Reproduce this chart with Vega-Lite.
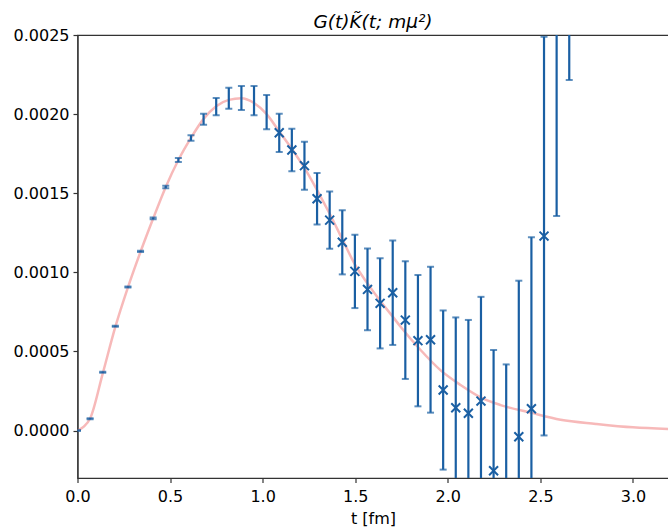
{
  "$schema": "https://vega.github.io/schema/vega-lite/v6.json",
  "width": 591,
  "height": 443,
  "autosize": "none",
  "padding": {"left": 77.5, "top": 35, "right": 0, "bottom": 50},
  "background": "white",
  "config": {
    "font": "DejaVu Sans",
    "view": {"stroke": "#333333", "strokeWidth": 1.2},
    "axis": {
      "grid": false,
      "domainColor": "#333333",
      "domainWidth": 1.2,
      "tickColor": "#333333",
      "tickWidth": 1.2,
      "tickSize": 4.5,
      "labelFont": "DejaVu Sans",
      "labelFontSize": 16,
      "labelColor": "#000000",
      "labelFlush": false,
      "labelOverlap": false,
      "titleFont": "DejaVu Sans",
      "titleFontSize": 16,
      "titleFontWeight": "normal",
      "titleColor": "#000000"
    },
    "axisX": {"labelPadding": 6, "titlePadding": 6},
    "axisY": {"labelPadding": 4}
  },
  "title": {
    "text": "G(t)K\u0303(t; mμ²)",
    "font": "DejaVu Sans",
    "fontSize": 18.5,
    "fontStyle": "italic",
    "fontWeight": "normal",
    "color": "#000000",
    "anchor": "middle",
    "offset": -4
  },
  "datasets": {
    "points": [
      {"t": 0.0, "G": 0.0, "lo": -0.000003, "hi": 0.000003},
      {"t": 0.0681, "G": 0.0000746, "lo": 0.0000716, "hi": 0.0000776},
      {"t": 0.1362, "G": 0.000368, "lo": 0.000365, "hi": 0.000371},
      {"t": 0.2043, "G": 0.000659, "lo": 0.000656, "hi": 0.000662},
      {"t": 0.2724, "G": 0.000907, "lo": 0.000904, "hi": 0.00091},
      {"t": 0.3405, "G": 0.001133, "lo": 0.001129, "hi": 0.001137},
      {"t": 0.4086, "G": 0.001341, "lo": 0.001336, "hi": 0.001346},
      {"t": 0.4767, "G": 0.001539, "lo": 0.001531, "hi": 0.001547},
      {"t": 0.5448, "G": 0.00171, "lo": 0.001698, "hi": 0.001722},
      {"t": 0.6129, "G": 0.001849, "lo": 0.001831, "hi": 0.001867},
      {"t": 0.681, "G": 0.001967, "lo": 0.001932, "hi": 0.002002},
      {"t": 0.7491, "G": 0.002047, "lo": 0.001992, "hi": 0.002102},
      {"t": 0.8172, "G": 0.0021, "lo": 0.002034, "hi": 0.002166},
      {"t": 0.8853, "G": 0.002102, "lo": 0.002026, "hi": 0.002178},
      {"t": 0.9534, "G": 0.002085, "lo": 0.001993, "hi": 0.002177},
      {"t": 1.0215, "G": 0.002012, "lo": 0.001904, "hi": 0.00212},
      {"t": 1.0896, "G": 0.001882, "lo": 0.001761, "hi": 0.002003},
      {"t": 1.1577, "G": 0.001773, "lo": 0.001639, "hi": 0.001907},
      {"t": 1.2258, "G": 0.001674, "lo": 0.001522, "hi": 0.001826},
      {"t": 1.2939, "G": 0.001465, "lo": 0.001303, "hi": 0.001627},
      {"t": 1.362, "G": 0.00133, "lo": 0.001149, "hi": 0.001511},
      {"t": 1.4301, "G": 0.00119, "lo": 0.000987, "hi": 0.001393},
      {"t": 1.4982, "G": 0.001006, "lo": 0.000774, "hi": 0.001238},
      {"t": 1.5663, "G": 0.000892, "lo": 0.000634, "hi": 0.00115},
      {"t": 1.6344, "G": 0.000804, "lo": 0.000519, "hi": 0.001089},
      {"t": 1.7025, "G": 0.000871, "lo": 0.000541, "hi": 0.001201},
      {"t": 1.7706, "G": 0.000698, "lo": 0.000326, "hi": 0.00107},
      {"t": 1.8387, "G": 0.000568, "lo": 0.000153, "hi": 0.000983},
      {"t": 1.9068, "G": 0.000574, "lo": 0.000113, "hi": 0.001035},
      {"t": 1.9749, "G": 0.000256, "lo": -0.000247, "hi": 0.000759},
      {"t": 2.043, "G": 0.000144, "lo": -0.000427, "hi": 0.000715},
      {"t": 2.1111, "G": 0.000109, "lo": -0.000481, "hi": 0.000699},
      {"t": 2.1792, "G": 0.000186, "lo": -0.000473, "hi": 0.000845},
      {"t": 2.2473, "G": -0.000254, "lo": -0.001017, "hi": 0.000509},
      {"t": 2.3154, "G": -0.00038, "lo": -0.001178, "hi": 0.000418},
      {"t": 2.3835, "G": -0.000039, "lo": -0.001025, "hi": 0.000947},
      {"t": 2.4516, "G": 0.000138, "lo": -0.000945, "hi": 0.001221},
      {"t": 2.5197, "G": 0.001229, "lo": -0.000031, "hi": 0.002489},
      {"t": 2.5878, "G": 0.00275, "lo": 0.001356, "hi": 0.004144},
      {"t": 2.6559, "G": 0.0037, "lo": 0.002215, "hi": 0.005185}
    ],
    "curve": [
      {"t": 0.0, "f": 0.0},
      {"t": 0.034, "f": 0.000025},
      {"t": 0.0681, "f": 0.000076},
      {"t": 0.1362, "f": 0.00036},
      {"t": 0.2043, "f": 0.000655},
      {"t": 0.2724, "f": 0.000905},
      {"t": 0.3405, "f": 0.00113},
      {"t": 0.4086, "f": 0.00134},
      {"t": 0.4767, "f": 0.00154},
      {"t": 0.5448, "f": 0.00171},
      {"t": 0.6129, "f": 0.00185},
      {"t": 0.681, "f": 0.00197},
      {"t": 0.7491, "f": 0.00205},
      {"t": 0.8172, "f": 0.00209},
      {"t": 0.8853, "f": 0.0021},
      {"t": 0.9534, "f": 0.00207},
      {"t": 1.0215, "f": 0.002},
      {"t": 1.0896, "f": 0.00189},
      {"t": 1.1577, "f": 0.00178},
      {"t": 1.2258, "f": 0.00166},
      {"t": 1.2939, "f": 0.00152},
      {"t": 1.362, "f": 0.00137},
      {"t": 1.4301, "f": 0.00121},
      {"t": 1.4982, "f": 0.00105},
      {"t": 1.5663, "f": 0.00093},
      {"t": 1.6344, "f": 0.00082},
      {"t": 1.7025, "f": 0.00072},
      {"t": 1.745, "f": 0.000656},
      {"t": 1.853, "f": 0.000509},
      {"t": 1.96, "f": 0.000382},
      {"t": 2.069, "f": 0.000288},
      {"t": 2.177, "f": 0.00021},
      {"t": 2.285, "f": 0.000161},
      {"t": 2.447, "f": 0.000113},
      {"t": 2.609, "f": 0.000068},
      {"t": 2.8, "f": 0.000042},
      {"t": 3.0, "f": 0.00002},
      {"t": 3.2, "f": 0.000009}
    ]
  },
  "layer": [
    {
      "data": {"name": "curve"},
      "mark": {"type": "line", "color": "#F08080", "opacity": 0.55, "strokeWidth": 2.5, "interpolate": "monotone", "clip": true},
      "encoding": {
        "x": {"field": "t", "type": "quantitative", "scale": {"domain": [0, 3.192], "nice": false, "zero": false},
              "axis": {"values": [0, 0.5, 1, 1.5, 2, 2.5, 3], "format": ".1f", "title": "t [fm]"}},
        "y": {"field": "f", "type": "quantitative", "scale": {"domain": [-0.0003, 0.0025], "nice": false, "zero": false},
              "axis": {"values": [0, 0.0005, 0.001, 0.0015, 0.002, 0.0025], "format": ".4f", "title": null}}
      }
    },
    {
      "data": {"name": "points"},
      "mark": {"type": "rule", "color": "#1a5fa3", "strokeWidth": 2.2, "clip": true},
      "encoding": {
        "x": {"field": "t", "type": "quantitative", "scale": {"domain": [0, 3.192], "nice": false, "zero": false},
              "axis": {"values": [0, 0.5, 1, 1.5, 2, 2.5, 3], "format": ".1f", "title": "t [fm]"}},
        "y": {"field": "lo", "type": "quantitative", "scale": {"domain": [-0.0003, 0.0025], "nice": false, "zero": false},
              "axis": {"values": [0, 0.0005, 0.001, 0.0015, 0.002, 0.0025], "format": ".4f", "title": null}},
        "y2": {"field": "hi"}
      }
    },
    {
      "data": {"name": "points"},
      "mark": {"type": "tick", "orient": "horizontal", "color": "#1a5fa3", "size": 7, "thickness": 2, "clip": true},
      "encoding": {
        "x": {"field": "t", "type": "quantitative", "scale": {"domain": [0, 3.192], "nice": false, "zero": false},
              "axis": {"values": [0, 0.5, 1, 1.5, 2, 2.5, 3], "format": ".1f", "title": "t [fm]"}},
        "y": {"field": "lo", "type": "quantitative", "scale": {"domain": [-0.0003, 0.0025], "nice": false, "zero": false},
              "axis": {"values": [0, 0.0005, 0.001, 0.0015, 0.002, 0.0025], "format": ".4f", "title": null}}
      }
    },
    {
      "data": {"name": "points"},
      "mark": {"type": "tick", "orient": "horizontal", "color": "#1a5fa3", "size": 7, "thickness": 2, "clip": true},
      "encoding": {
        "x": {"field": "t", "type": "quantitative", "scale": {"domain": [0, 3.192], "nice": false, "zero": false},
              "axis": {"values": [0, 0.5, 1, 1.5, 2, 2.5, 3], "format": ".1f", "title": "t [fm]"}},
        "y": {"field": "hi", "type": "quantitative", "scale": {"domain": [-0.0003, 0.0025], "nice": false, "zero": false},
              "axis": {"values": [0, 0.0005, 0.001, 0.0015, 0.002, 0.0025], "format": ".4f", "title": null}}
      }
    },
    {
      "data": {"name": "points"},
      "transform": [{"filter": "datum.t > 1.05"}],
      "mark": {"type": "point", "shape": "M-1,-1L1,1M-1,1L1,-1", "filled": false, "color": "#1a5fa3", "strokeWidth": 2, "size": 80, "opacity": 1, "clip": true},
      "encoding": {
        "x": {"field": "t", "type": "quantitative", "scale": {"domain": [0, 3.192], "nice": false, "zero": false},
              "axis": {"values": [0, 0.5, 1, 1.5, 2, 2.5, 3], "format": ".1f", "title": "t [fm]"}},
        "y": {"field": "G", "type": "quantitative", "scale": {"domain": [-0.0003, 0.0025], "nice": false, "zero": false},
              "axis": {"values": [0, 0.0005, 0.001, 0.0015, 0.002, 0.0025], "format": ".4f", "title": null}}
      }
    }
  ]
}
